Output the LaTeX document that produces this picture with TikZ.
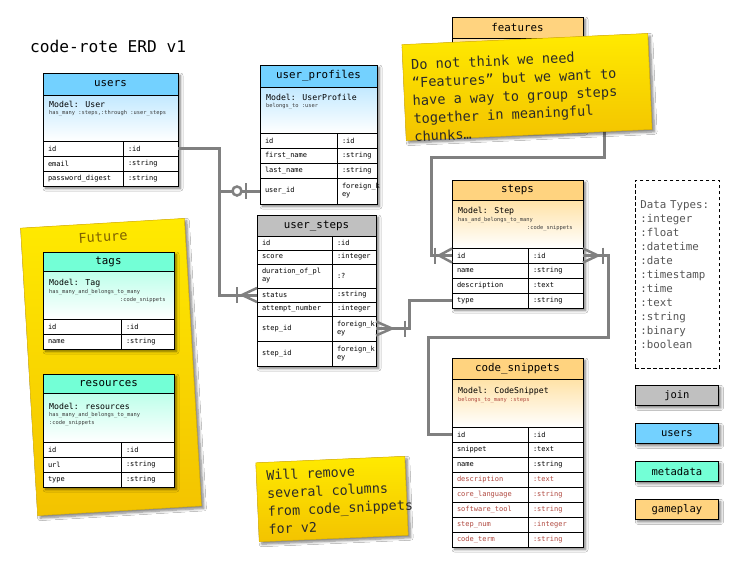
\documentclass[tikz,border=0pt]{standalone}
\usepackage{fontspec}
\setmainfont{DejaVu Sans Mono}
\usetikzlibrary{shadows.blur}
\definecolor{hblue}{HTML}{73D1FF}
\definecolor{mblue}{HTML}{C2E9FF}
\definecolor{hgray}{HTML}{C0C0C0}
\definecolor{horange}{HTML}{FFD37F}
\definecolor{morange}{HTML}{FFE2A6}
\definecolor{hmint}{HTML}{73FFD6}
\definecolor{mmint}{HTML}{BDFFEA}
\definecolor{lgray}{HTML}{808080}
\definecolor{redtxt}{HTML}{B0483F}
\definecolor{smtxt}{HTML}{3C3C3C}
\definecolor{ntop}{HTML}{FFEA00}
\definecolor{nbot}{HTML}{F3C300}
\definecolor{nborder}{HTML}{DDB400}
\definecolor{futtxt}{HTML}{7F6200}
\definecolor{dtgray}{HTML}{555555}
\definecolor{notetxt}{HTML}{2A2A2A}
\tikzset{
  tshadow/.style={blur shadow={shadow xshift=2.5pt, shadow yshift=-2.5pt, shadow blur radius=2.5pt, shadow blur steps=6, shadow opacity=50}},
  tblbase/.style={anchor=north west, inner sep=0pt, outer sep=0pt, fill=white, tshadow},
  hdr/.style={draw, line width=0.8pt, anchor=north west, inner sep=0pt, outer sep=0pt, font=\fontsize{10.8}{12}\selectfont},
  mdl/.style={draw, line width=0.8pt, anchor=north west, inner sep=0pt, outer sep=0pt},
  cellbox/.style={draw, line width=0.8pt, anchor=north west, inner xsep=5pt, inner ysep=0pt, outer sep=0pt, align=left, fill=white, font=\fontsize{7}{8}\selectfont},
  mtxt/.style={anchor=west, inner sep=0pt, font=\fontsize{8.2}{9}\selectfont},
  stxt/.style={anchor=west, inner sep=0pt, font=\fontsize{5.4}{6}\selectfont, text=smtxt},
  link/.style={draw=lgray, line width=3pt},
  foot/.style={draw=lgray, line width=2.5pt},
  note/.style={inner sep=0pt, outer sep=0pt, top color=ntop, bottom color=nbot, draw=nborder, line width=0.5pt, tshadow},
  notetext/.style={inner sep=0pt, align=left, text=notetxt},
  legend/.style={draw, line width=0.8pt, minimum width=83pt, minimum height=20pt, inner sep=0pt, anchor=north west, font=\fontsize{10.5}{12}\selectfont, tshadow},
}
\newcommand\tcell[7][black]{%
  \pgfmathsetmacro\tcw{#5-10}%
  \node[cellbox, text=#1, text width=\tcw pt, minimum height=#6pt] (#2) at (#3,#4) {#7};}
\begin{document}
\begin{tikzpicture}[x=1pt,y=-1pt]
\fill[white] (0,0) rectangle (740,568);
\useasboundingbox (0,0) rectangle (740,568);

% title
\node[anchor=west, inner sep=0pt, font=\fontsize{16.2}{18}\selectfont] (title) at (30,46) {code-rote ERD v1};

% ---------- features (mostly hidden) ----------
\node[tblbase, minimum width=131pt, minimum height=113pt] (feat) at (452,17) {};
\node[hdr, fill=horange, minimum width=131pt, minimum height=21pt] (feat-h) at (452,17) {features};
\node[mdl, top color=morange, bottom color=white, minimum width=131pt, minimum height=92pt] (feat-m) at (452,38) {};

% ---------- Future note ----------
\node[note, top color=ntop, bottom color=nbot, minimum width=164pt, minimum height=288pt, rotate=3.4] (future) at (111,367) {};
\node[rotate=3.4, inner sep=0pt, font=\fontsize{13.6}{16}\selectfont, text=futtxt] (futlbl) at (103,237) {Future};

% ---------- users ----------
\node[tblbase, minimum width=135pt, minimum height=113pt] (users) at (43,73) {};
\node[hdr, fill=hblue, minimum width=135pt, minimum height=22pt] (users-h) at (43,73) {users};
\node[mdl, top color=mblue, bottom color=white, minimum width=135pt, minimum height=46pt] (users-m) at (43,95) {};
\node[mtxt] (users-mt) at (49,104) {Model: User};
\node[stxt] (users-st) at (49,113) {has\_many :steps,:through :user\_steps};
\tcell{u-id}{43}{141}{80}{15}{id}\tcell{u-idt}{123}{141}{55}{15}{:id}
\tcell{u-em}{43}{156}{80}{15}{email}\tcell{u-emt}{123}{156}{55}{15}{:string}
\tcell{u-pw}{43}{171}{80}{15}{password\_digest}\tcell{u-pwt}{123}{171}{55}{15}{:string}

% ---------- user_profiles ----------
\node[tblbase, minimum width=117pt, minimum height=139pt] (uprof) at (260,65) {};
\node[hdr, fill=hblue, minimum width=117pt, minimum height=22pt] (up-h) at (260,65) {user\_profiles};
\node[mdl, top color=mblue, bottom color=white, minimum width=117pt, minimum height=46pt] (up-m) at (260,87) {};
\node[mtxt] (up-mt) at (266,97) {Model: UserProfile};
\node[stxt] (up-st) at (266,106) {belongs\_to :user};
\tcell{up-id}{260}{133}{77}{15}{id}\tcell{up-idt}{337}{133}{40}{15}{:id}
\tcell{up-fn}{260}{148}{77}{15}{first\_name}\tcell{up-fnt}{337}{148}{40}{15}{:string}
\tcell{up-ln}{260}{163}{77}{15}{last\_name}\tcell{up-lnt}{337}{163}{40}{15}{:string}
\tcell{up-uid}{260}{178}{77}{26}{user\_id}\tcell{up-uidt}{337}{178}{40}{26}{foreign\_k\\ey}

% ---------- user_steps ----------
\node[tblbase, minimum width=119pt, minimum height=151pt] (usteps) at (257,215) {};
\node[hdr, fill=hgray, minimum width=119pt, minimum height=21pt] (us-h) at (257,215) {user\_steps};
\tcell{us-id}{257}{236}{75}{14}{id}\tcell{us-idt}{332}{236}{44}{14}{:id}
\tcell{us-sc}{257}{250}{75}{14}{score}\tcell{us-sct}{332}{250}{44}{14}{:integer}
\tcell{us-du}{257}{264}{75}{24}{duration\_of\_pl\\ay}\tcell{us-dut}{332}{264}{44}{24}{:?}
\tcell{us-st}{257}{288}{75}{14}{status}\tcell{us-stt}{332}{288}{44}{14}{:string}
\tcell{us-at}{257}{302}{75}{14}{attempt\_number}\tcell{us-att}{332}{302}{44}{14}{:integer}
\tcell{us-s1}{257}{316}{75}{25}{step\_id}\tcell{us-s1t}{332}{316}{44}{25}{foreign\_k\\ey}
\tcell{us-s2}{257}{341}{75}{25}{step\_id}\tcell{us-s2t}{332}{341}{44}{25}{foreign\_k\\ey}

% ---------- steps ----------
\node[tblbase, minimum width=131pt, minimum height=128pt] (steps) at (452,180) {};
\node[hdr, fill=horange, minimum width=131pt, minimum height=20pt] (st-h) at (452,180) {steps};
\node[mdl, top color=morange, bottom color=white, minimum width=131pt, minimum height=48pt] (st-m) at (452,200) {};
\node[mtxt] (st-mt) at (458,211) {Model: Step};
\node[stxt] (st-st) at (458,220) {has\_and\_belongs\_to\_many};
\node[stxt] (st-st2) at (527,228) {:code\_snippets};
\tcell{st-id}{452}{248}{76}{15}{id}\tcell{st-idt}{528}{248}{55}{15}{:id}
\tcell{st-nm}{452}{263}{76}{15}{name}\tcell{st-nmt}{528}{263}{55}{15}{:string}
\tcell{st-de}{452}{278}{76}{15}{description}\tcell{st-det}{528}{278}{55}{15}{:text}
\tcell{st-ty}{452}{293}{76}{15}{type}\tcell{st-tyt}{528}{293}{55}{15}{:string}

% ---------- code_snippets ----------
\node[tblbase, minimum width=131pt, minimum height=189pt] (csnip) at (452,358) {};
\node[hdr, fill=horange, minimum width=131pt, minimum height=21pt] (cs-h) at (452,358) {code\_snippets};
\node[mdl, top color=morange, bottom color=white, minimum width=131pt, minimum height=48pt] (cs-m) at (452,379) {};
\node[mtxt] (cs-mt) at (458,391) {Model: CodeSnippet};
\node[stxt, text=redtxt] (cs-st) at (458,400) {belongs\_to\_many :steps};
\tcell{cs-id}{452}{427}{76}{15}{id}\tcell{cs-idt}{528}{427}{55}{15}{:id}
\tcell{cs-sn}{452}{442}{76}{15}{snippet}\tcell{cs-snt}{528}{442}{55}{15}{:text}
\tcell{cs-nm}{452}{457}{76}{15}{name}\tcell{cs-nmt}{528}{457}{55}{15}{:string}
\tcell[redtxt]{cs-de}{452}{472}{76}{15}{description}\tcell[redtxt]{cs-det}{528}{472}{55}{15}{:text}
\tcell[redtxt]{cs-cl}{452}{487}{76}{15}{core\_language}\tcell[redtxt]{cs-clt}{528}{487}{55}{15}{:string}
\tcell[redtxt]{cs-sw}{452}{502}{76}{15}{software\_tool}\tcell[redtxt]{cs-swt}{528}{502}{55}{15}{:string}
\tcell[redtxt]{cs-sp}{452}{517}{76}{15}{step\_num}\tcell[redtxt]{cs-spt}{528}{517}{55}{15}{:integer}
\tcell[redtxt]{cs-ct}{452}{532}{76}{15}{code\_term}\tcell[redtxt]{cs-ctt}{528}{532}{55}{15}{:string}

% ---------- tags ----------
\node[tblbase, minimum width=131pt, minimum height=97pt] (tags) at (43,252) {};
\node[hdr, fill=hmint, minimum width=131pt, minimum height=19pt] (tg-h) at (43,252) {tags};
\node[mdl, top color=mmint, bottom color=white, minimum width=131pt, minimum height=48pt] (tg-m) at (43,271) {};
\node[mtxt] (tg-mt) at (49,283) {Model: Tag};
\node[stxt] (tg-st) at (49,292) {has\_many\_and\_belongs\_to\_many};
\node[stxt] (tg-st2) at (120,300) {:code\_snippets};
\tcell{tg-id}{43}{319}{78}{15}{id}\tcell{tg-idt}{121}{319}{53}{15}{:id}
\tcell{tg-nm}{43}{334}{78}{15}{name}\tcell{tg-nmt}{121}{334}{53}{15}{:string}

% ---------- resources ----------
\node[tblbase, minimum width=131pt, minimum height=113pt] (res) at (43,374) {};
\node[hdr, fill=hmint, minimum width=131pt, minimum height=19pt] (rs-h) at (43,374) {resources};
\node[mdl, top color=mmint, bottom color=white, minimum width=131pt, minimum height=49pt] (rs-m) at (43,393) {};
\node[mtxt] (rs-mt) at (49,406) {Model: resources};
\node[stxt] (rs-st) at (49,415) {has\_many\_and\_belongs\_to\_many};
\node[stxt] (rs-st2) at (49,423) {:code\_snippets};
\tcell{rs-id}{43}{442}{78}{15}{id}\tcell{rs-idt}{121}{442}{53}{15}{:id}
\tcell{rs-ur}{43}{457}{78}{15}{url}\tcell{rs-urt}{121}{457}{53}{15}{:string}
\tcell{rs-ty}{43}{472}{78}{15}{type}\tcell{rs-tyt}{121}{472}{53}{15}{:string}

% ---------- connectors ----------
% users -> user_profiles / user_steps
\coordinate (bendA) at ([xshift=41pt]u-idt.east);
\draw[link] (u-idt.east) -- (bendA) |- (us-st.west);
\draw[link] (bendA |- up-uid.west) -- (up-uid.west);
\draw[foot] ([xshift=-15pt]us-st.west) -- ([yshift=7pt]us-st.west)
            ([xshift=-15pt]us-st.west) -- ([yshift=-7pt]us-st.west);
\draw[foot] ([xshift=-20pt,yshift=8pt]us-st.west) -- ([xshift=-20pt,yshift=-8pt]us-st.west);
\draw[foot, fill=white] ([xshift=-23pt]up-uid.west) circle (4.5pt);
\draw[foot] ([xshift=-14pt,yshift=8pt]up-uid.west) -- ([xshift=-14pt,yshift=-8pt]up-uid.west);

% steps.type -> user_steps.step_id
\draw[link] (st-ty.west) -- ++(-43pt,0) |- (us-s1t.east);
\draw[foot] ([xshift=16pt]us-s1t.east) -- ([yshift=7pt]us-s1t.east)
            ([xshift=16pt]us-s1t.east) -- ([yshift=-7pt]us-s1t.east);
\draw[foot] ([xshift=29pt,yshift=8pt]us-s1t.east) -- ([xshift=29pt,yshift=-8pt]us-s1t.east);

% features -> steps.id
\coordinate (fC1) at ([xshift=21pt]feat.east);
\coordinate (fC2) at (604,157);
\draw[link] (feat.east) -- (fC1) |- (fC2) -- (431,157) |- (st-id.west);
\draw[foot] ([xshift=-13pt]st-id.west) -- ([yshift=7pt]st-id.west)
            ([xshift=-13pt]st-id.west) -- ([yshift=-7pt]st-id.west);
\draw[foot] ([xshift=-17pt,yshift=8pt]st-id.west) -- ([xshift=-17pt,yshift=-8pt]st-id.west);

% steps.id -> code_snippets.id
\coordinate (dC1) at ([xshift=25pt]st-idt.east);
\draw[link] (st-idt.east) -- (dC1) -- (dC1 |- 0,337) -- (428,337) |- (cs-id.west);
\draw[foot] ([xshift=15pt]st-idt.east) -- ([yshift=7pt]st-idt.east)
            ([xshift=15pt]st-idt.east) -- ([yshift=-7pt]st-idt.east);
\draw[foot] ([xshift=20pt,yshift=8pt]st-idt.east) -- ([xshift=20pt,yshift=-8pt]st-idt.east);

% ---------- sticky notes ----------
\node[note, minimum width=246pt, minimum height=96pt, rotate=2.6] (note1) at (527,87) {};
\node[notetext, rotate=2.6, font=\fontsize{13.6}{18}\selectfont] (note1t) at (515,96)
  {Do not think we need\\“Features” but we want to\\have a way to group steps\\together in meaningful\\chunks…};
\node[note, minimum width=149pt, minimum height=79pt, rotate=2.5] (note2) at (332,499) {};
\node[notetext, rotate=2.5, font=\fontsize{13.4}{18}\selectfont] (note2t) at (340,499)
  {Will remove\\several columns\\from code\_snippets\\for v2};

% ---------- data types ----------
\node[draw, dash pattern=on 3.5pt off 2.5pt, line width=0.8pt, anchor=north west, minimum width=84pt, minimum height=188pt, inner xsep=5pt, inner ysep=0pt, text width=74pt, align=left, text=dtgray, font=\fontsize{10.8}{14}\selectfont] (dtypes) at (635,180)
  {Data Types:\\:integer\\:float\\:datetime\\:date\\:timestamp\\:time\\:text\\:string\\:binary\\:boolean};

% ---------- legend ----------
\node[legend, fill=hgray] (lg-join) at (635,385) {join};
\node[legend, fill=hblue] (lg-users) at (635,423) {users};
\node[legend, fill=hmint] (lg-meta) at (635,461) {metadata};
\node[legend, fill=horange] (lg-game) at (635,499) {gameplay};
\end{tikzpicture}
\end{document}
